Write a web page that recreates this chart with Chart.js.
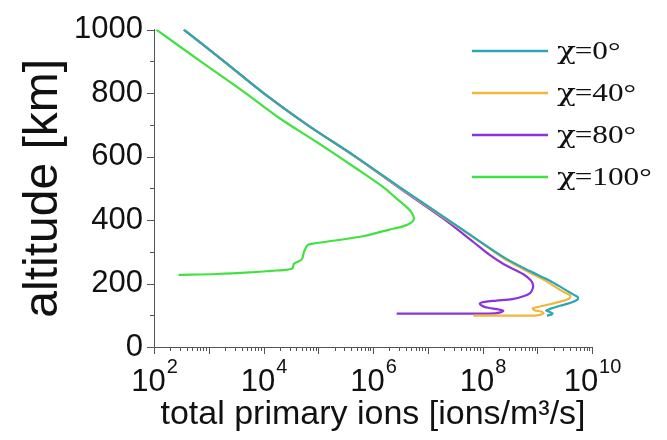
<!DOCTYPE html>
<html>
<head>
<meta charset="utf-8">
<script src="https://cdn.jsdelivr.net/npm/chart.js@4/dist/chart.umd.min.js"></script>
<style>
  body { margin: 0; background: #fff; }
</style>
</head>
<body>
<canvas id="ionChart" width="667" height="440"></canvas>

<script>
// series labels + colours
const seriesLabels = ['χ=0°', 'χ=40°', 'χ=80°', 'χ=100°'];
const seriesColors = ['#2aa7b3', '#f2b63e', '#8c34d9', '#40e23f'];

// chi = 0
const alt0 = [1000, 900, 800, 700, 600, 500, 400, 333, 280, 240, 209, 184, 165, 157, 150, 140, 130, 120, 115, 110, 106, 102, 99];
const ions0 = [3.5e2, 1.9e3, 1.0e4, 6.3e4, 4.8e5, 3.3e6, 2.4e7, 8.9e7, 2.6e8, 7.1e8, 1.7e9, 3.0e9, 4.6e9, 5.5e9, 5.5e9, 4.2e9, 2.6e9, 1.7e9, 1.45e9, 1.7e9, 1.9e9, 1.8e9, 1.5e9];

// chi = 40
const alt40 = [1000, 900, 800, 700, 600, 500, 400, 333, 280, 240, 209, 184, 170, 162, 152, 142, 130, 122, 116, 111, 106, 102, 99, 99];
const ions40 = [3.5e2, 1.9e3, 1.0e4, 6.3e4, 4.7e5, 3.2e6, 2.3e7, 8.7e7, 2.4e8, 6.3e8, 1.4e9, 2.4e9, 3.3e9, 4.0e9, 3.8e9, 2.5e9, 1.3e9, 8.3e8, 8.9e8, 1.2e9, 1.3e9, 1.15e9, 9.0e8, 6.8e7];

// chi = 80
const alt80 = [1000, 900, 800, 700, 600, 500, 400, 330, 290, 260, 230, 210, 198, 185, 170, 160, 151, 146, 142, 136, 126, 118, 114, 109, 106, 105, 105];
const ions80 = [3.5e2, 1.9e3, 1.0e4, 6.3e4, 4.7e5, 3.1e6, 2.1e7, 6.9e7, 1.35e8, 2.5e8, 5.5e8, 7.6e8, 8.3e8, 8.3e8, 7.4e8, 5.6e8, 3.5e8, 1.8e8, 1.1e8, 8.9e7, 1.1e8, 2.0e8, 2.4e8, 2.1e8, 1.7e8, 7.9e7, 2.7e6];

// chi = 100
const alt100 = [1000, 900, 800, 720, 645, 560, 505, 470, 448, 425, 405, 392, 380, 370, 349, 330, 325, 320, 300, 276, 262, 248, 244, 240, 235, 230, 227];
const ions100 = [1.1e2, 7.1e2, 4.7e3, 2.0e4, 9.5e4, 5.2e5, 1.5e6, 2.6e6, 3.7e6, 5.0e6, 5.6e6, 5.0e6, 3.5e6, 2.0e6, 6.6e5, 1.2e5, 7.6e4, 6.3e4, 5.5e4, 5.0e4, 3.6e4, 3.4e4, 2.8e4, 1.4e4, 5.6e3, 1.4e3, 2.8e2];

// axis ticks
const xLabelExponents = [2, 4, 6, 8, 10];
const yMajorStep = 200;
const yMinorStep = 100;

const toPoints = (ions, alt) => ions.map((v, i) => ({ x: v, y: alt[i] }));
const seriesData = [toPoints(ions0, alt0), toPoints(ions40, alt40), toPoints(ions80, alt80), toPoints(ions100, alt100)];

const SANS = '"Liberation Sans", Arial, sans-serif';

// tick marks, 10^n labels and the legend are drawn here
const axisDecor = {
    id: 'axisDecor',
    afterDraw(chart) {
        const ctx = chart.ctx;
        const xs = chart.scales.x, ys = chart.scales.y;
        const base = ys.bottom;
        ctx.save();
        ctx.strokeStyle = '#555';
        ctx.lineWidth = 1;
        ctx.beginPath();
        for (let e = 2; e <= 10; e++) {
            for (let m = 1; m <= 9; m++) {
                if (e === 10 && m > 1) break;
                const px = Math.round(xs.getPixelForValue(m * Math.pow(10, e))) + 0.5;
                const len = m === 1 ? 7 : 4;
                ctx.moveTo(px, base);
                ctx.lineTo(px, base + len);
            }
        }
        for (let v = 0; v <= 1000; v += yMinorStep) {
            const py = Math.round(ys.getPixelForValue(v)) + 0.5;
            const len = v % yMajorStep === 0 ? 7 : 4;
            ctx.moveTo(xs.left, py);
            ctx.lineTo(xs.left - len, py);
        }
        ctx.stroke();

        // x tick labels 10^n
        ctx.fillStyle = '#111';
        ctx.textBaseline = 'alphabetic';
        ctx.textAlign = 'left';
        xLabelExponents.forEach(e => {
            const px = xs.getPixelForValue(Math.pow(10, e));
            ctx.font = '31px ' + SANS;
            const wb = ctx.measureText('10').width;
            ctx.font = '20px ' + SANS;
            const we = ctx.measureText(String(e)).width;
            const left = px - (wb + we) / 2;
            ctx.font = '31px ' + SANS;
            ctx.fillText('10', left, 391);
            ctx.font = '20px ' + SANS;
            ctx.fillText(String(e), left + wb + 1, 373);
        });

        // legend
        const rowY = [51, 93, 135, 177];
        chart.data.datasets.forEach((ds, i) => {
            ctx.strokeStyle = ds.borderColor;
            ctx.lineWidth = 2.5;
            ctx.beginPath();
            ctx.moveTo(472, rowY[i]);
            ctx.lineTo(548, rowY[i]);
            ctx.stroke();
            ctx.save();
            ctx.translate(557, rowY[i] + 8);
            ctx.scale(1.25, 1);
            ctx.fillStyle = '#111';
            ctx.font = '25px "DejaVu Serif", serif';
            const chi = ds.label.charAt(0);
            const wc = ctx.measureText(chi).width;
            ctx.fillText(chi, 0, 0);
            ctx.font = '25px "Liberation Serif", "Times New Roman", serif';
            ctx.fillText(ds.label.slice(1), wc - 1, 0);
            ctx.restore();
        });
        ctx.restore();
    }
};

new Chart(document.getElementById('ionChart'), {
    type: 'scatter',
    data: {
        datasets: seriesData.map((pts, i) => ({
            label: seriesLabels[i],
            data: pts,
            showLine: true,
            borderColor: seriesColors[i],
            backgroundColor: seriesColors[i],
            borderWidth: 2.2,
            pointRadius: 0,
            tension: 0.3
        }))
    },
    options: {
        responsive: false,
        animation: false,
        layout: { padding: { top: 26, right: 75, left: 0, bottom: 0 } },
        plugins: {
            legend: { display: false },
            tooltip: { enabled: false }
        },
        scales: {
            x: {
                type: 'logarithmic',
                min: 1e2,
                max: 1e10,
                afterFit: s => { s.height = 93; },
                border: { display: true, color: '#555', width: 1 },
                grid: { display: false, drawTicks: false },
                ticks: { display: false },
                title: {
                    display: true,
                    text: 'total primary ions [ions/m³/s]',
                    color: '#111',
                    font: { family: SANS, size: 34, lineHeight: 1 },
                    padding: { top: 0, bottom: 8 }
                }
            },
            y: {
                type: 'linear',
                min: 0,
                max: 1000,
                afterFit: s => { s.width = 154; },
                border: { display: true, color: '#555', width: 1 },
                grid: { display: false, drawTicks: false },
                ticks: {
                    stepSize: yMajorStep,
                    color: '#111',
                    padding: 11,
                    font: { family: SANS, size: 31 },
                    callback: v => String(v)
                },
                title: {
                    display: true,
                    text: 'altitude [km]',
                    color: '#111',
                    font: { family: SANS, size: 48, lineHeight: 1 },
                    padding: { top: 20, bottom: 0 }
                }
            }
        }
    },
    plugins: [axisDecor]
});
</script>
</body>
</html>
